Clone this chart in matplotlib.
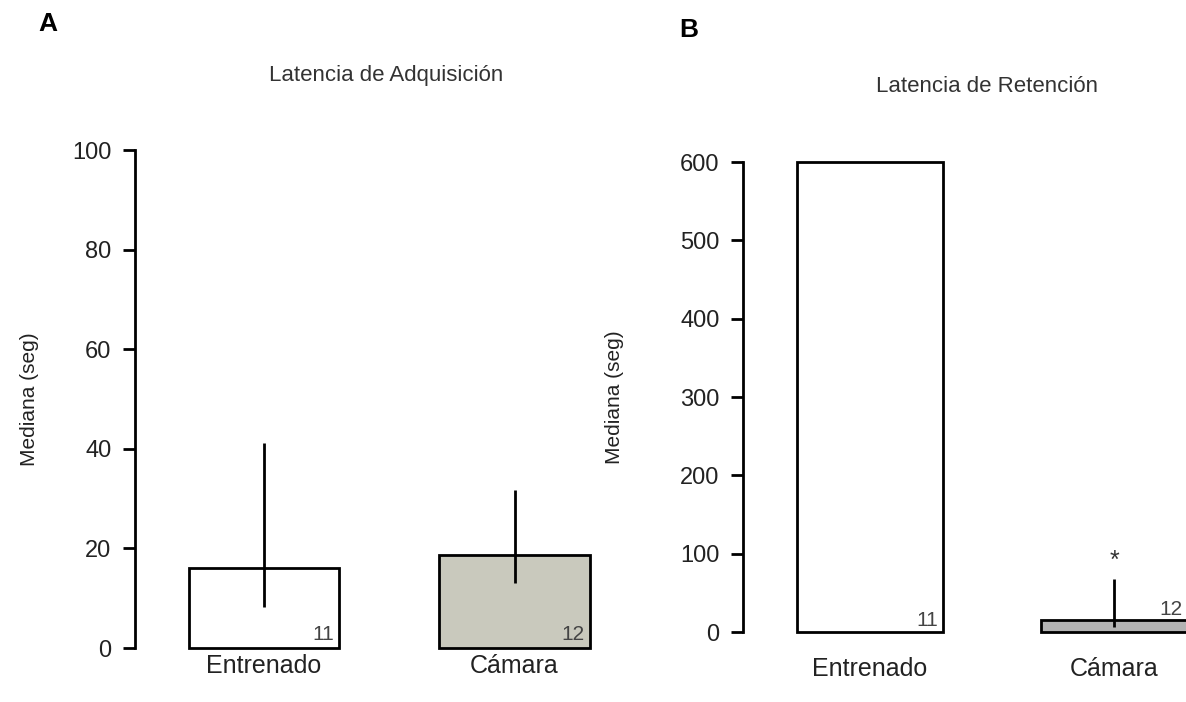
import matplotlib
matplotlib.use("Agg")
import matplotlib.pyplot as plt

plt.rcParams['font.family'] = ['Liberation Sans', 'DejaVu Sans']

groups = ["Entrenado", "Cámara"]
n_labels = ["11", "12"]

acq_median = [16, 18.6]
acq_low = [8.2, 13]
acq_high = [41.2, 31.7]

ret_median = [600, 15]
ret_low = [600, 7]
ret_high = [600, 68]

acq_colors = ["#ffffff", "#c9c9bd"]
ret_colors = ["#ffffff", "#b3b3b3"]

fig = plt.figure(figsize=(11.86, 7.02), dpi=100)

def panel(ax, med, lo, hi, colors, yticks, ymax, pad, lpad):
    x = range(len(med))
    w = 0.6
    ax.bar(x, med, width=w, color=colors, edgecolor="black", linewidth=2, clip_on=False, zorder=2)
    ax.vlines(list(x), lo, hi, colors="black", linewidth=2, zorder=3)
    ax.set_ylim(0, ymax)
    ax.set_yticks(yticks)
    ax.set_xticks(list(x))
    ax.set_xticklabels(groups, fontsize=18, color="#222222")
    for s in ["top", "right", "bottom"]:
        ax.spines[s].set_visible(False)
    ax.spines["left"].set_linewidth(2)
    ax.tick_params(axis="y", length=9, width=2, labelsize=17, pad=8, labelcolor="#222222")
    ax.tick_params(axis="x", length=0, pad=pad)
    ax.set_ylabel("Mediana (seg)", fontsize=15, labelpad=lpad, color="#222222")
    return w

axA = fig.add_axes([0.1138, 0.0769, 0.392, 0.7094])
axA.set_xlim(-0.514, 1.34)
w = panel(axA, acq_median, acq_low, acq_high, acq_colors, [0, 20, 40, 60, 80, 100], 100, 4, 24)
for i, t in enumerate(n_labels):
    axA.text(i + w / 2 - 0.02, 0.8, t, ha="right", va="bottom", fontsize=15, color="#444444")
axA.text(0.54, 1.15, "Latencia de Adquisición", transform=axA.transAxes, ha="center",
         va="center", fontsize=16, color="#333333")

axB = fig.add_axes([0.6265, 0.0997, 0.3735, 0.6695])
axB.set_xlim(-0.52, 1.295)
w = panel(axB, ret_median, ret_low, ret_high, ret_colors, [0, 100, 200, 300, 400, 500, 600], 600, 18, 40)
axB.text(0 + w / 2 - 0.02, 3, n_labels[0], ha="right", va="bottom", fontsize=15, color="#444444")
axB.text(1 + w / 2 - 0.02, 16, n_labels[1], ha="right", va="bottom", fontsize=15, color="#444444")
axB.text(1, ret_high[1] + 8, "*", ha="center", va="bottom", fontsize=18, color="#333333")
axB.text(0.551, 1.16, "Latencia de Retención", transform=axB.transAxes, ha="center",
         va="center", fontsize=16, color="#333333")

fig.text(0.032, 0.966, "A", fontsize=19, fontweight="bold", va="center")
fig.text(0.573, 0.957, "B", fontsize=19, fontweight="bold", va="center")

fig.savefig("out.png", dpi=100, facecolor="white")
